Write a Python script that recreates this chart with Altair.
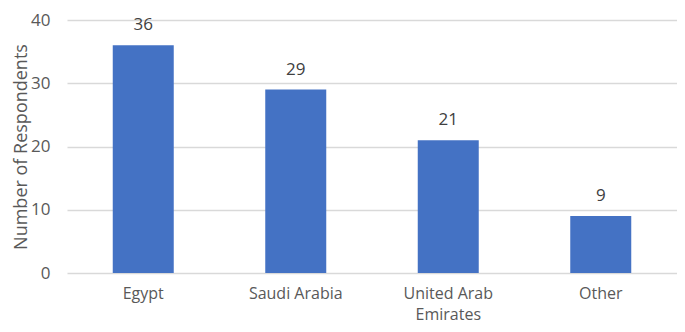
import altair as alt
import pandas as pd

countries = ["Egypt", "Saudi Arabia", "United Arab Emirates", "Other"]
respondents = [36, 29, 21, 9]

df = pd.DataFrame({"country": countries, "n": respondents})

FONT = "Open Sans"

x = alt.X(
    "country:N",
    sort=countries,
    title=None,
    scale=alt.Scale(paddingInner=0.6, paddingOuter=0.3),
    axis=alt.Axis(
        labelAngle=0,
        labelFont=FONT,
        labelFontSize=16,
        labelColor="#595959",
        labelPadding=12,
        labelLineHeight=21,
        labelLimit=300,
        labelExpr="datum.label == 'United Arab Emirates' ? ['United Arab', 'Emirates'] : datum.label",
        ticks=False,
        domain=False,
        grid=False,
    ),
)

y = alt.Y(
    "n:Q",
    title="Number of Respondents",
    scale=alt.Scale(domain=[0, 40], nice=False, zero=True),
    axis=alt.Axis(
        values=[0, 10, 20, 30, 40],
        labelFont=FONT,
        labelFontSize=17,
        labelColor="#595959",
        labelPadding=17,
        ticks=False,
        domain=False,
        grid=True,
        gridColor="#d9d9d9",
        gridWidth=1.3,
        titleFont=FONT,
        titleFontSize=18,
        titleFontWeight="normal",
        titleColor="#595959",
        titleX=-46,
        titleBaseline="middle",
    ),
)

bars = alt.Chart(df).mark_bar(color="#4472C4").encode(x=x, y=y)

labels = alt.Chart(df).mark_text(
    font=FONT, fontSize=17, color="#404040", baseline="middle", dy=-20
).encode(x=alt.X("country:N", sort=countries), y=alt.Y("n:Q"), text=alt.Text("n:Q"))

chart = (
    alt.layer(bars, labels)
    .properties(
        width=610,
        height=253,
        autosize=alt.AutoSizeParams(type="none"),
        padding={"left": 59, "top": 12, "right": 0, "bottom": 51},
    )
    .configure_view(stroke=None)
)

chart.save("out.html", embed_options={"renderer": "svg", "actions": False})
